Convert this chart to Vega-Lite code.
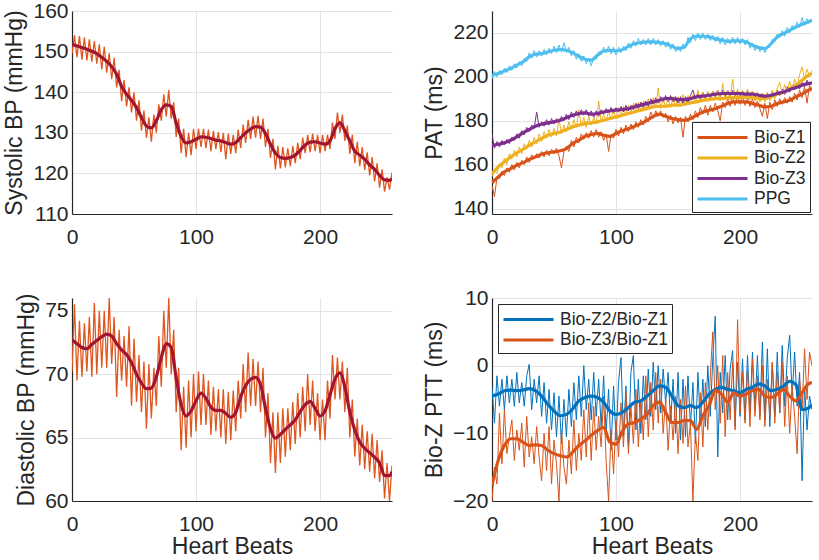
{
"$schema": "https://vega.github.io/schema/vega-lite/v6.json",
"padding": {"left": 3, "top": 0, "right": 5, "bottom": 0},
"background": "white",
"config": {
  "font": "Liberation Sans",
  "view": {"stroke": null},
  "axis": {"labelFontSize": 21, "titleFontSize": 23, "titleFontWeight": "normal", "labelColor": "#262626", "titleColor": "#262626", "domainColor": "#262626", "domainWidth": 1.2, "gridColor": "#e3e3e3", "gridWidth": 1, "ticks": false, "labelFlush": false, "labelOverlap": false},
  "axisX": {"labelPadding": 12, "titlePadding": 1},
  "axisY": {"labelPadding": 4, "titlePadding": 6},
  "legend": {"labelFontSize": 17.5, "labelColor": "#262626", "strokeColor": "#262626", "fillColor": "white", "padding": 4, "rowPadding": 0.5, "symbolStrokeWidth": 3, "title": null}
},
"datasets": {
"n": [
{"b":0,"s":149.5,"d":70.2,"z1":150.5,"z2":154.5,"z3":174.0,"pg":199.0,"r2":-3.0,"r3":-20.0},
{"b":2,"s":154.0,"d":75.5,"z1":145.5,"z2":157.5,"z3":167.5,"pg":202.5,"r2":-8.5,"r3":-15.0},
{"b":4,"s":148.6,"d":69.5,"z1":154.0,"z2":156.0,"z3":170.5,"pg":200.0,"r2":-1.5,"r3":-17.5},
{"b":6,"s":153.8,"d":74.2,"z1":153.5,"z2":160.5,"z3":168.0,"pg":203.0,"r2":-6.0,"r3":-7.0},
{"b":8,"s":148.0,"d":69.8,"z1":157.0,"z2":158.5,"z3":171.0,"pg":201.0,"r2":-2.0,"r3":-14.5},
{"b":10,"s":153.5,"d":74.0,"z1":155.0,"z2":163.0,"z3":169.0,"pg":204.0,"r2":-6.5,"r3":-6.5},
{"b":12,"s":147.8,"d":70.2,"z1":158.5,"z2":160.0,"z3":171.5,"pg":202.0,"r2":-1.5,"r3":-13.0},
{"b":14,"s":153.0,"d":74.5,"z1":156.5,"z2":165.0,"z3":169.5,"pg":205.0,"r2":-5.5,"r3":-10.5},
{"b":16,"s":147.5,"d":69.8,"z1":160.0,"z2":162.5,"z3":172.5,"pg":203.0,"r2":-2.0,"r3":-8.0},
{"b":18,"s":152.6,"d":75.6,"z1":157.5,"z2":166.5,"z3":171.0,"pg":206.0,"r2":-6.0,"r3":-14.0},
{"b":20,"s":147.0,"d":70.0,"z1":161.0,"z2":163.5,"z3":174.0,"pg":204.0,"r2":-1.0,"r3":-9.5},
{"b":22,"s":151.8,"d":75.0,"z1":158.5,"z2":168.0,"z3":172.0,"pg":207.0,"r2":-5.5,"r3":-12.5},
{"b":24,"s":145.6,"d":70.5,"z1":162.0,"z2":165.0,"z3":175.5,"pg":205.0,"r2":-2.5,"r3":-8.5},
{"b":26,"s":151.2,"d":75.0,"z1":160.0,"z2":169.5,"z3":173.5,"pg":208.5,"r2":-6.0,"r3":-15.0},
{"b":28,"s":144.8,"d":70.5,"z1":163.5,"z2":167.0,"z3":177.0,"pg":207.0,"r2":-1.5,"r3":-7.5},
{"b":30,"s":149.6,"d":76.0,"z1":161.0,"z2":171.0,"z3":175.0,"pg":211.0,"r2":0.2,"r3":-13.5},
{"b":32,"s":143.2,"d":70.8,"z1":164.5,"z2":168.0,"z3":178.0,"pg":208.5,"r2":-6.5,"r3":-10.5},
{"b":34,"s":148.5,"d":74.5,"z1":162.5,"z2":172.5,"z3":176.5,"pg":212.0,"r2":-2.0,"r3":-14.5},
{"b":36,"s":141.2,"d":68.2,"z1":165.0,"z2":169.5,"z3":184.0,"pg":209.0,"r2":-5.5,"r3":-9.0},
{"b":38,"s":145.5,"d":73.5,"z1":163.0,"z2":174.0,"z3":177.0,"pg":212.0,"r2":-1.5,"r3":-13.5},
{"b":40,"s":137.8,"d":69.5,"z1":166.0,"z2":170.5,"z3":179.5,"pg":209.5,"r2":-7.5,"r3":-17.0},
{"b":42,"s":143.0,"d":73.0,"z1":163.5,"z2":175.0,"z3":177.5,"pg":212.5,"r2":-2.5,"r3":-10.0},
{"b":44,"s":136.5,"d":69.0,"z1":166.5,"z2":172.0,"z3":180.5,"pg":210.0,"r2":-8.5,"r3":-15.5},
{"b":46,"s":141.2,"d":73.8,"z1":164.0,"z2":176.0,"z3":178.0,"pg":213.0,"r2":-3.5,"r3":-9.0},
{"b":48,"s":135.0,"d":67.5,"z1":167.0,"z2":172.5,"z3":181.0,"pg":210.5,"r2":-9.5,"r3":-17.5},
{"b":50,"s":140.0,"d":72.8,"z1":165.0,"z2":176.5,"z3":178.5,"pg":214.0,"r2":-4.0,"r3":-11.0},
{"b":52,"s":133.0,"d":67.8,"z1":167.5,"z2":173.0,"z3":181.0,"pg":211.0,"r2":-10.5,"r3":-14.5},
{"b":54,"s":138.0,"d":71.5,"z1":164.0,"z2":181.0,"z3":179.0,"pg":214.5,"r2":-4.5,"r3":-20.0},
{"b":56,"s":130.5,"d":67.0,"z1":158.5,"z2":174.0,"z3":182.0,"pg":211.5,"r2":-11.5,"r3":-9.5},
{"b":58,"s":135.5,"d":71.0,"z1":166.0,"z2":178.0,"z3":180.0,"pg":215.5,"r2":-5.0,"r3":-15.0},
{"b":60,"s":128.8,"d":65.7,"z1":168.5,"z2":175.0,"z3":183.0,"pg":211.0,"r2":-10.5,"r3":-17.5},
{"b":62,"s":133.8,"d":70.8,"z1":166.0,"z2":179.5,"z3":180.5,"pg":213.5,"r2":-3.5,"r3":-11.0},
{"b":64,"s":127.8,"d":66.5,"z1":171.0,"z2":176.0,"z3":184.0,"pg":209.5,"r2":-9.0,"r3":-16.0},
{"b":66,"s":134.5,"d":70.5,"z1":168.0,"z2":180.5,"z3":181.5,"pg":212.0,"r2":-2.5,"r3":-8.0},
{"b":68,"s":130.0,"d":67.5,"z1":172.5,"z2":177.0,"z3":184.5,"pg":208.0,"r2":-8.0,"r3":-15.5},
{"b":70,"s":137.0,"d":73.0,"z1":170.0,"z2":185.0,"z3":182.0,"pg":210.5,"r2":-1.5,"r3":-10.0},
{"b":72,"s":133.0,"d":69.0,"z1":174.0,"z2":177.5,"z3":185.0,"pg":207.0,"r2":-7.5,"r3":-14.0},
{"b":74,"s":139.5,"d":75.0,"z1":171.5,"z2":181.5,"z3":182.5,"pg":209.5,"r2":0.0,"r3":-6.5},
{"b":76,"s":134.0,"d":70.5,"z1":174.5,"z2":177.0,"z3":185.0,"pg":206.0,"r2":-6.5,"r3":-13.5},
{"b":78,"s":140.5,"d":76.0,"z1":172.0,"z2":182.0,"z3":182.0,"pg":208.5,"r2":-2.0,"r3":-5.5},
{"b":80,"s":133.5,"d":70.0,"z1":175.5,"z2":178.0,"z3":184.5,"pg":205.0,"r2":-8.0,"r3":-14.0},
{"b":82,"s":137.5,"d":73.5,"z1":172.5,"z2":181.5,"z3":181.5,"pg":209.0,"r2":-1.0,"r3":-6.0},
{"b":84,"s":129.0,"d":67.0,"z1":176.0,"z2":178.5,"z3":184.5,"pg":208.0,"r2":-7.5,"r3":-12.5},
{"b":86,"s":133.5,"d":70.5,"z1":172.5,"z2":189.0,"z3":182.0,"pg":211.5,"r2":-2.0,"r3":-7.5},
{"b":88,"s":125.0,"d":64.0,"z1":175.0,"z2":179.5,"z3":185.0,"pg":210.0,"r2":-9.0,"r3":-12.0},
{"b":90,"s":131.0,"d":69.0,"z1":171.0,"z2":183.0,"z3":183.0,"pg":213.5,"r2":-1.5,"r3":-4.5},
{"b":92,"s":124.0,"d":64.2,"z1":174.0,"z2":180.0,"z3":185.5,"pg":211.0,"r2":-10.0,"r3":-14.0},
{"b":94,"s":130.0,"d":69.5,"z1":166.0,"z2":184.0,"z3":183.5,"pg":214.0,"r2":-3.5,"r3":-20.0},
{"b":96,"s":124.5,"d":65.0,"z1":173.5,"z2":180.5,"z3":186.0,"pg":210.5,"r2":-12.5,"r3":-9.5},
{"b":98,"s":131.0,"d":70.0,"z1":172.0,"z2":185.0,"z3":183.5,"pg":213.5,"r2":-3.0,"r3":-16.0},
{"b":100,"s":126.0,"d":65.5,"z1":176.0,"z2":181.0,"z3":186.0,"pg":210.0,"r2":-11.0,"r3":-8.0},
{"b":102,"s":131.0,"d":70.2,"z1":173.0,"z2":186.0,"z3":184.0,"pg":213.5,"r2":-2.5,"r3":-13.5},
{"b":104,"s":126.5,"d":66.0,"z1":177.0,"z2":182.0,"z3":186.5,"pg":211.0,"r2":1.2,"r3":-5.5},
{"b":106,"s":131.0,"d":70.0,"z1":174.0,"z2":186.5,"z3":184.0,"pg":214.0,"r2":-10.5,"r3":-12.0},
{"b":108,"s":126.2,"d":66.0,"z1":178.0,"z2":182.5,"z3":187.0,"pg":212.0,"r2":-3.0,"r3":-4.0},
{"b":110,"s":130.8,"d":69.5,"z1":175.0,"z2":187.0,"z3":184.5,"pg":215.5,"r2":-12.0,"r3":-13.0},
{"b":112,"s":125.5,"d":65.2,"z1":178.5,"z2":183.5,"z3":187.0,"pg":213.0,"r2":-1.0,"r3":-6.0},
{"b":114,"s":130.5,"d":69.0,"z1":176.0,"z2":188.0,"z3":185.0,"pg":216.5,"r2":1.5,"r3":-11.5},
{"b":116,"s":126.0,"d":65.5,"z1":179.5,"z2":184.0,"z3":188.0,"pg":214.0,"r2":-9.5,"r3":-3.5},
{"b":118,"s":130.2,"d":68.8,"z1":177.0,"z2":188.5,"z3":185.5,"pg":217.5,"r2":-2.0,"r3":-12.0},
{"b":120,"s":125.2,"d":65.0,"z1":180.5,"z2":184.5,"z3":188.5,"pg":214.5,"r2":-10.0,"r3":-5.0},
{"b":122,"s":130.0,"d":68.8,"z1":178.0,"z2":189.0,"z3":186.0,"pg":217.0,"r2":-1.5,"r3":-11.0},
{"b":124,"s":123.5,"d":64.5,"z1":182.0,"z2":185.0,"z3":189.0,"pg":214.5,"r2":-8.0,"r3":-1.5},
{"b":126,"s":129.8,"d":68.6,"z1":179.5,"z2":190.0,"z3":186.5,"pg":217.5,"r2":-0.5,"r3":-10.5},
{"b":128,"s":124.8,"d":64.8,"z1":184.0,"z2":185.5,"z3":190.0,"pg":214.5,"r2":-7.5,"r3":-2.5},
{"b":130,"s":129.5,"d":68.7,"z1":181.0,"z2":190.5,"z3":187.5,"pg":217.5,"r2":0.5,"r3":-9.5},
{"b":132,"s":125.0,"d":65.5,"z1":184.5,"z2":186.0,"z3":190.5,"pg":214.5,"r2":-6.5,"r3":-1.0},
{"b":134,"s":130.8,"d":69.5,"z1":182.0,"z2":195.0,"z3":188.0,"pg":217.0,"r2":0.0,"r3":-8.5},
{"b":136,"s":126.2,"d":66.5,"z1":184.5,"z2":185.5,"z3":191.0,"pg":214.0,"r2":-7.0,"r3":-2.0},
{"b":138,"s":132.0,"d":70.8,"z1":181.5,"z2":190.0,"z3":188.5,"pg":216.5,"r2":-0.5,"r3":-10.0},
{"b":140,"s":127.5,"d":67.0,"z1":183.5,"z2":186.0,"z3":191.5,"pg":213.5,"r2":-5.5,"r3":-5.0},
{"b":142,"s":133.2,"d":71.7,"z1":179.5,"z2":190.5,"z3":188.5,"pg":216.0,"r2":-1.0,"r3":-12.5},
{"b":144,"s":128.5,"d":67.5,"z1":182.5,"z2":186.0,"z3":191.5,"pg":212.5,"r2":-8.5,"r3":-6.0},
{"b":146,"s":134.0,"d":71.2,"z1":178.5,"z2":191.0,"z3":188.5,"pg":215.0,"r2":-2.0,"r3":-11.0},
{"b":148,"s":128.8,"d":67.5,"z1":182.0,"z2":186.5,"z3":191.0,"pg":211.5,"r2":-10.0,"r3":-4.5},
{"b":150,"s":134.2,"d":71.0,"z1":179.0,"z2":191.0,"z3":188.0,"pg":214.0,"r2":-1.0,"r3":-13.0},
{"b":152,"s":128.5,"d":67.0,"z1":181.5,"z2":186.5,"z3":191.0,"pg":211.5,"r2":-11.0,"r3":-5.0},
{"b":154,"s":133.5,"d":70.5,"z1":172.5,"z2":192.0,"z3":188.0,"pg":215.0,"r2":-2.0,"r3":-11.5},
{"b":156,"s":126.5,"d":65.0,"z1":182.0,"z2":187.0,"z3":191.0,"pg":213.0,"r2":-10.5,"r3":-3.0},
{"b":158,"s":131.0,"d":68.5,"z1":179.5,"z2":191.5,"z3":188.5,"pg":218.0,"r2":-1.5,"r3":-12.0},
{"b":160,"s":123.8,"d":63.0,"z1":183.0,"z2":187.5,"z3":191.5,"pg":215.5,"r2":-9.0,"r3":-8.5},
{"b":162,"s":128.5,"d":67.0,"z1":180.5,"z2":192.0,"z3":194.0,"pg":219.5,"r2":-2.5,"r3":-20.0},
{"b":164,"s":121.0,"d":62.2,"z1":184.5,"z2":188.0,"z3":190.0,"pg":216.5,"r2":-11.5,"r3":-10.0},
{"b":166,"s":126.8,"d":67.0,"z1":181.5,"z2":194.0,"z3":192.5,"pg":220.0,"r2":-1.0,"r3":-14.0},
{"b":168,"s":121.2,"d":63.0,"z1":186.0,"z2":188.5,"z3":190.0,"pg":217.0,"r2":-8.5,"r3":-4.0},
{"b":170,"s":126.5,"d":67.3,"z1":183.0,"z2":193.0,"z3":193.0,"pg":220.0,"r2":-2.0,"r3":-12.0},
{"b":172,"s":121.5,"d":63.5,"z1":187.0,"z2":189.0,"z3":190.0,"pg":217.0,"r2":-9.0,"r3":-2.5},
{"b":174,"s":126.2,"d":67.3,"z1":182.5,"z2":193.5,"z3":193.0,"pg":219.5,"r2":0.0,"r3":-9.5},
{"b":176,"s":121.8,"d":64.0,"z1":187.0,"z2":189.0,"z3":190.5,"pg":216.5,"r2":-7.5,"r3":-1.5},
{"b":178,"s":126.8,"d":67.8,"z1":184.0,"z2":193.5,"z3":193.5,"pg":219.0,"r2":1.0,"r3":5.0},
{"b":180,"s":122.5,"d":64.5,"z1":188.0,"z2":189.5,"z3":191.0,"pg":216.0,"r2":7.3,"r3":-6.5},
{"b":182,"s":127.5,"d":68.5,"z1":184.5,"z2":194.0,"z3":194.0,"pg":218.5,"r2":-13.5,"r3":0.0},
{"b":184,"s":123.5,"d":65.0,"z1":180.0,"z2":189.0,"z3":191.0,"pg":215.0,"r2":-1.0,"r3":-8.5},
{"b":186,"s":128.8,"d":69.0,"z1":188.5,"z2":197.0,"z3":194.0,"pg":218.0,"r2":-7.0,"r3":1.5},
{"b":188,"s":125.0,"d":65.5,"z1":186.0,"z2":189.5,"z3":191.0,"pg":214.5,"r2":1.5,"r3":-10.5},
{"b":190,"s":129.5,"d":70.0,"z1":190.0,"z2":194.0,"z3":194.0,"pg":217.5,"r2":-8.0,"r3":-1.0},
{"b":192,"s":125.2,"d":66.0,"z1":186.5,"z2":189.5,"z3":191.0,"pg":215.0,"r2":-0.5,"r3":-8.0},
{"b":194,"s":129.8,"d":69.5,"z1":191.0,"z2":199.0,"z3":194.0,"pg":218.0,"r2":2.2,"r3":0.5},
{"b":196,"s":125.5,"d":65.5,"z1":187.0,"z2":190.0,"z3":191.0,"pg":215.0,"r2":-9.0,"r3":-9.5},
{"b":198,"s":129.5,"d":68.5,"z1":191.5,"z2":194.5,"z3":193.5,"pg":218.0,"r2":0.5,"r3":6.8},
{"b":200,"s":125.0,"d":64.8,"z1":187.5,"z2":190.0,"z3":191.0,"pg":215.0,"r2":-7.5,"r3":-7.0},
{"b":202,"s":129.5,"d":68.0,"z1":191.0,"z2":194.0,"z3":193.5,"pg":217.5,"r2":1.0,"r3":-1.0},
{"b":204,"s":125.5,"d":64.8,"z1":187.0,"z2":190.0,"z3":190.5,"pg":214.5,"r2":-8.0,"r3":-8.5},
{"b":206,"s":129.5,"d":69.5,"z1":190.5,"z2":194.5,"z3":193.5,"pg":217.0,"r2":1.5,"r3":-0.5},
{"b":208,"s":126.0,"d":66.5,"z1":186.5,"z2":189.5,"z3":190.5,"pg":213.0,"r2":-7.0,"r3":-9.0},
{"b":210,"s":132.5,"d":71.5,"z1":190.0,"z2":193.5,"z3":193.5,"pg":215.5,"r2":2.0,"r3":1.0},
{"b":212,"s":128.5,"d":68.0,"z1":186.0,"z2":189.0,"z3":190.0,"pg":212.0,"r2":-6.5,"r3":-7.5},
{"b":214,"s":135.0,"d":71.3,"z1":189.0,"z2":193.0,"z3":193.0,"pg":214.5,"r2":1.5,"r3":-1.5},
{"b":216,"s":130.0,"d":68.0,"z1":185.5,"z2":188.5,"z3":190.0,"pg":211.5,"r2":-7.5,"r3":-8.0},
{"b":218,"s":134.5,"d":71.0,"z1":182.0,"z2":192.5,"z3":192.5,"pg":214.0,"r2":3.5,"r3":0.0},
{"b":220,"s":128.0,"d":67.0,"z1":188.0,"z2":188.5,"z3":190.0,"pg":211.0,"r2":-8.0,"r3":-9.0},
{"b":222,"s":131.8,"d":70.5,"z1":181.0,"z2":193.0,"z3":192.5,"pg":213.5,"r2":2.5,"r3":-2.0},
{"b":224,"s":124.8,"d":65.0,"z1":188.5,"z2":189.0,"z3":190.5,"pg":213.5,"r2":-9.0,"r3":-7.5},
{"b":226,"s":129.5,"d":68.0,"z1":185.0,"z2":194.0,"z3":193.0,"pg":217.0,"r2":0.5,"r3":0.5},
{"b":228,"s":122.5,"d":63.5,"z1":189.5,"z2":190.0,"z3":191.0,"pg":216.0,"r2":-7.5,"r3":-8.5},
{"b":230,"s":127.8,"d":66.5,"z1":186.5,"z2":195.0,"z3":194.0,"pg":219.5,"r2":2.0,"r3":-1.0},
{"b":232,"s":121.8,"d":62.8,"z1":190.0,"z2":197.5,"z3":191.5,"pg":218.0,"r2":-7.0,"r3":-7.0},
{"b":234,"s":126.5,"d":66.0,"z1":187.5,"z2":192.0,"z3":194.5,"pg":221.0,"r2":3.0,"r3":0.5},
{"b":236,"s":120.8,"d":62.5,"z1":190.5,"z2":196.5,"z3":192.0,"pg":218.5,"r2":-6.0,"r3":-9.0},
{"b":238,"s":125.2,"d":65.5,"z1":188.0,"z2":193.0,"z3":195.5,"pg":222.5,"r2":1.0,"r3":-1.5},
{"b":240,"s":119.5,"d":62.3,"z1":191.0,"z2":198.0,"z3":193.0,"pg":220.0,"r2":4.5,"r3":-10.0},
{"b":242,"s":124.0,"d":65.3,"z1":188.5,"z2":194.0,"z3":196.0,"pg":223.5,"r2":-4.5,"r3":-3.0},
{"b":244,"s":118.0,"d":61.8,"z1":192.5,"z2":199.0,"z3":194.0,"pg":221.5,"r2":2.0,"r3":-7.5},
{"b":246,"s":122.5,"d":64.8,"z1":189.5,"z2":195.5,"z3":197.0,"pg":225.0,"r2":-6.0,"r3":-13.0},
{"b":248,"s":116.5,"d":61.5,"z1":194.0,"z2":201.0,"z3":194.5,"pg":222.5,"r2":-1.0,"r3":-2.0},
{"b":250,"s":121.0,"d":64.0,"z1":190.5,"z2":204.5,"z3":197.5,"pg":227.0,"r2":-17.0,"r3":-6.5},
{"b":252,"s":115.5,"d":60.2,"z1":195.5,"z2":199.0,"z3":195.5,"pg":223.5,"r2":-3.0,"r3":2.5},
{"b":254,"s":119.0,"d":63.0,"z1":188.0,"z2":203.5,"z3":198.5,"pg":226.5,"r2":-9.5,"r3":-5.0},
{"b":256,"s":116.0,"d":60.0,"z1":196.0,"z2":200.0,"z3":196.0,"pg":224.5,"r2":-4.5,"r3":2.0},
{"b":258,"s":120.2,"d":62.8,"z1":194.5,"z2":203.0,"z3":198.0,"pg":226.0,"r2":-6.5,"r3":0.0}
],
"m1": [
{"b":0,"s":151.8,"d":72.7},{"b":4,"s":151.4,"d":72.4},{"b":8,"s":151.0,"d":72.1},{"b":12,"s":150.6,"d":72.0},
{"b":16,"s":150.1,"d":72.35},{"b":20,"s":149.5,"d":72.65},{"b":24,"s":148.6,"d":72.95},{"b":28,"s":147.6,"d":73.15},
{"b":32,"s":146.3,"d":73.0},{"b":36,"s":144.4,"d":72.4},{"b":40,"s":141.4,"d":71.9},{"b":44,"s":139.5,"d":71.55},
{"b":48,"s":138.0,"d":70.9},{"b":52,"s":136.2,"d":70.0},{"b":56,"s":133.8,"d":69.3},{"b":60,"s":131.7,"d":68.85},
{"b":64,"s":131.2,"d":68.9},{"b":68,"s":133.0,"d":69.8},{"b":72,"s":135.7,"d":71.3},{"b":76,"s":136.9,"d":72.4},
{"b":80,"s":136.5,"d":72.1},{"b":84,"s":132.4,"d":69.7},{"b":88,"s":129.1,"d":67.6},{"b":92,"s":127.5,"d":66.7},
{"b":96,"s":127.8,"d":67.1},{"b":100,"s":128.4,"d":67.9},{"b":104,"s":129.0,"d":68.5},{"b":108,"s":128.9,"d":68.1},
{"b":112,"s":128.6,"d":67.4},{"b":116,"s":128.2,"d":67.15},{"b":120,"s":128.0,"d":67.15},{"b":124,"s":127.6,"d":66.9},
{"b":128,"s":127.2,"d":66.6},{"b":132,"s":127.6,"d":67.0},{"b":136,"s":128.8,"d":68.2},{"b":140,"s":130.0,"d":69.1},
{"b":144,"s":130.9,"d":69.6},{"b":148,"s":131.5,"d":69.75},{"b":152,"s":131.4,"d":69.2},{"b":156,"s":129.8,"d":67.3},
{"b":160,"s":127.2,"d":65.7},{"b":164,"s":125.0,"d":64.95},{"b":168,"s":123.9,"d":65.25},{"b":172,"s":123.7,"d":65.65},
{"b":176,"s":123.9,"d":66.0},{"b":180,"s":124.5,"d":66.4},{"b":184,"s":125.7,"d":67.05},{"b":188,"s":127.0,"d":67.6},
{"b":192,"s":127.7,"d":67.85},{"b":196,"s":127.8,"d":67.3},{"b":200,"s":127.5,"d":66.7},{"b":204,"s":127.2,"d":67.1},
{"b":208,"s":128.0,"d":68.35},{"b":212,"s":131.0,"d":69.6},{"b":216,"s":132.5,"d":70.1},{"b":220,"s":130.5,"d":69.0},
{"b":224,"s":128.0,"d":67.0},{"b":228,"s":125.5,"d":65.6},{"b":232,"s":124.5,"d":64.65},{"b":236,"s":123.5,"d":64.15},
{"b":240,"s":122.1,"d":63.8},{"b":244,"s":121.0,"d":63.45},{"b":248,"s":119.5,"d":63.0},{"b":252,"s":118.4,"d":62.0},
{"b":256,"s":118.3,"d":62.0},{"b":258,"s":118.7,"d":62.3}
],
"m2": [
{"b":0,"Bio-Z1":151.7,"Bio-Z2":155.9,"Bio-Z3":168.8,"PPG":200.7},
{"b":5,"Bio-Z1":154.4,"Bio-Z2":159.0,"Bio-Z3":169.3,"PPG":201.5},
{"b":10,"Bio-Z1":156.7,"Bio-Z2":161.3,"Bio-Z3":169.9,"PPG":202.7},
{"b":15,"Bio-Z1":158.2,"Bio-Z2":163.5,"Bio-Z3":171.1,"PPG":203.8},
{"b":20,"Bio-Z1":159.7,"Bio-Z2":165.4,"Bio-Z3":172.6,"PPG":205.3},
{"b":25,"Bio-Z1":160.9,"Bio-Z2":166.9,"Bio-Z3":174.5,"PPG":206.8},
{"b":30,"Bio-Z1":162.3,"Bio-Z2":168.8,"Bio-Z3":176.0,"PPG":209.1},
{"b":35,"Bio-Z1":163.5,"Bio-Z2":170.4,"Bio-Z3":177.5,"PPG":210.3},
{"b":40,"Bio-Z1":164.7,"Bio-Z2":171.9,"Bio-Z3":178.4,"PPG":210.6},
{"b":45,"Bio-Z1":165.4,"Bio-Z2":173.4,"Bio-Z3":179.0,"PPG":211.3},
{"b":50,"Bio-Z1":165.8,"Bio-Z2":174.2,"Bio-Z3":179.5,"PPG":212.1},
{"b":55,"Bio-Z1":166.3,"Bio-Z2":174.9,"Bio-Z3":180.2,"PPG":212.4},
{"b":60,"Bio-Z1":167.3,"Bio-Z2":176.0,"Bio-Z3":181.4,"PPG":212.1},
{"b":65,"Bio-Z1":169.6,"Bio-Z2":177.2,"Bio-Z3":182.5,"PPG":210.9},
{"b":70,"Bio-Z1":171.1,"Bio-Z2":178.0,"Bio-Z3":183.3,"PPG":209.4},
{"b":75,"Bio-Z1":172.9,"Bio-Z2":178.7,"Bio-Z3":183.6,"PPG":208.0},
{"b":80,"Bio-Z1":173.7,"Bio-Z2":179.0,"Bio-Z3":183.0,"PPG":207.6},
{"b":85,"Bio-Z1":174.2,"Bio-Z2":179.5,"Bio-Z3":183.3,"PPG":209.8},
{"b":90,"Bio-Z1":173.4,"Bio-Z2":180.2,"Bio-Z3":184.0,"PPG":211.8},
{"b":95,"Bio-Z1":172.9,"Bio-Z2":181.0,"Bio-Z3":184.5,"PPG":212.1},
{"b":100,"Bio-Z1":174.2,"Bio-Z2":181.7,"Bio-Z3":184.8,"PPG":211.8},
{"b":105,"Bio-Z1":175.4,"Bio-Z2":182.5,"Bio-Z3":185.1,"PPG":212.4},
{"b":110,"Bio-Z1":176.4,"Bio-Z2":183.3,"Bio-Z3":185.5,"PPG":213.9},
{"b":115,"Bio-Z1":177.5,"Bio-Z2":184.0,"Bio-Z3":186.3,"PPG":215.1},
{"b":120,"Bio-Z1":178.7,"Bio-Z2":184.8,"Bio-Z3":187.1,"PPG":215.6},
{"b":125,"Bio-Z1":180.2,"Bio-Z2":185.5,"Bio-Z3":187.8,"PPG":215.9},
{"b":130,"Bio-Z1":182.0,"Bio-Z2":186.3,"Bio-Z3":188.6,"PPG":215.9},
{"b":135,"Bio-Z1":183.0,"Bio-Z2":186.6,"Bio-Z3":189.3,"PPG":215.6},
{"b":140,"Bio-Z1":182.0,"Bio-Z2":186.6,"Bio-Z3":190.1,"PPG":215.1},
{"b":145,"Bio-Z1":181.0,"Bio-Z2":187.1,"Bio-Z3":190.1,"PPG":213.9},
{"b":150,"Bio-Z1":180.5,"Bio-Z2":187.1,"Bio-Z3":189.6,"PPG":212.9},
{"b":155,"Bio-Z1":180.2,"Bio-Z2":187.5,"Bio-Z3":189.6,"PPG":213.6},
{"b":160,"Bio-Z1":181.0,"Bio-Z2":188.1,"Bio-Z3":190.1,"PPG":217.4},
{"b":165,"Bio-Z1":182.5,"Bio-Z2":188.6,"Bio-Z3":190.9,"PPG":218.5},
{"b":170,"Bio-Z1":184.0,"Bio-Z2":189.3,"Bio-Z3":191.2,"PPG":218.5},
{"b":175,"Bio-Z1":184.8,"Bio-Z2":189.6,"Bio-Z3":191.6,"PPG":218.2},
{"b":180,"Bio-Z1":185.5,"Bio-Z2":190.1,"Bio-Z3":192.1,"PPG":217.4},
{"b":185,"Bio-Z1":186.6,"Bio-Z2":190.1,"Bio-Z3":192.4,"PPG":216.7},
{"b":190,"Bio-Z1":187.8,"Bio-Z2":190.4,"Bio-Z3":192.4,"PPG":216.2},
{"b":195,"Bio-Z1":188.6,"Bio-Z2":190.5,"Bio-Z3":192.4,"PPG":216.4},
{"b":200,"Bio-Z1":188.6,"Bio-Z2":190.5,"Bio-Z3":192.4,"PPG":216.4},
{"b":205,"Bio-Z1":188.6,"Bio-Z2":190.9,"Bio-Z3":192.1,"PPG":215.9},
{"b":210,"Bio-Z1":187.8,"Bio-Z2":190.5,"Bio-Z3":192.1,"PPG":214.4},
{"b":215,"Bio-Z1":187.1,"Bio-Z2":190.1,"Bio-Z3":191.6,"PPG":213.3},
{"b":220,"Bio-Z1":186.3,"Bio-Z2":190.1,"Bio-Z3":191.2,"PPG":212.9},
{"b":225,"Bio-Z1":186.6,"Bio-Z2":190.9,"Bio-Z3":191.6,"PPG":215.1},
{"b":230,"Bio-Z1":187.8,"Bio-Z2":192.1,"Bio-Z3":192.4,"PPG":218.2},
{"b":235,"Bio-Z1":188.6,"Bio-Z2":193.1,"Bio-Z3":193.1,"PPG":219.7},
{"b":240,"Bio-Z1":189.3,"Bio-Z2":194.6,"Bio-Z3":194.2,"PPG":221.2},
{"b":245,"Bio-Z1":190.9,"Bio-Z2":196.2,"Bio-Z3":195.1,"PPG":222.7},
{"b":250,"Bio-Z1":192.1,"Bio-Z2":198.4,"Bio-Z3":196.2,"PPG":224.0},
{"b":255,"Bio-Z1":193.9,"Bio-Z2":200.7,"Bio-Z3":196.9,"PPG":225.0},
{"b":258,"Bio-Z1":194.6,"Bio-Z2":201.5,"Bio-Z3":197.2,"PPG":225.8}
],
"m4": [
{"b":0,"Bio-Z2/Bio-Z1":-4.5,"Bio-Z3/Bio-Z1":-17.7},
{"b":5,"Bio-Z2/Bio-Z1":-4.2,"Bio-Z3/Bio-Z1":-14.0},
{"b":10,"Bio-Z2/Bio-Z1":-3.7,"Bio-Z3/Bio-Z1":-11.8},
{"b":15,"Bio-Z2/Bio-Z1":-3.6,"Bio-Z3/Bio-Z1":-10.8},
{"b":20,"Bio-Z2/Bio-Z1":-3.7,"Bio-Z3/Bio-Z1":-10.8},
{"b":25,"Bio-Z2/Bio-Z1":-3.6,"Bio-Z3/Bio-Z1":-11.3},
{"b":30,"Bio-Z2/Bio-Z1":-3.4,"Bio-Z3/Bio-Z1":-11.8},
{"b":35,"Bio-Z2/Bio-Z1":-3.7,"Bio-Z3/Bio-Z1":-11.7},
{"b":40,"Bio-Z2/Bio-Z1":-4.5,"Bio-Z3/Bio-Z1":-11.8},
{"b":45,"Bio-Z2/Bio-Z1":-5.7,"Bio-Z3/Bio-Z1":-12.5},
{"b":50,"Bio-Z2/Bio-Z1":-6.7,"Bio-Z3/Bio-Z1":-13.0},
{"b":55,"Bio-Z2/Bio-Z1":-7.4,"Bio-Z3/Bio-Z1":-13.3},
{"b":60,"Bio-Z2/Bio-Z1":-7.2,"Bio-Z3/Bio-Z1":-13.5},
{"b":65,"Bio-Z2/Bio-Z1":-6.4,"Bio-Z3/Bio-Z1":-12.8},
{"b":70,"Bio-Z2/Bio-Z1":-5.2,"Bio-Z3/Bio-Z1":-11.8},
{"b":75,"Bio-Z2/Bio-Z1":-4.7,"Bio-Z3/Bio-Z1":-11.1},
{"b":80,"Bio-Z2/Bio-Z1":-4.5,"Bio-Z3/Bio-Z1":-10.3},
{"b":85,"Bio-Z2/Bio-Z1":-4.7,"Bio-Z3/Bio-Z1":-9.6},
{"b":90,"Bio-Z2/Bio-Z1":-5.4,"Bio-Z3/Bio-Z1":-9.1},
{"b":95,"Bio-Z2/Bio-Z1":-6.7,"Bio-Z3/Bio-Z1":-11.3},
{"b":100,"Bio-Z2/Bio-Z1":-7.2,"Bio-Z3/Bio-Z1":-11.6},
{"b":105,"Bio-Z2/Bio-Z1":-6.9,"Bio-Z3/Bio-Z1":-9.7},
{"b":110,"Bio-Z2/Bio-Z1":-6.2,"Bio-Z3/Bio-Z1":-8.6},
{"b":115,"Bio-Z2/Bio-Z1":-5.4,"Bio-Z3/Bio-Z1":-8.4},
{"b":120,"Bio-Z2/Bio-Z1":-5.2,"Bio-Z3/Bio-Z1":-7.9},
{"b":125,"Bio-Z2/Bio-Z1":-4.5,"Bio-Z3/Bio-Z1":-7.2},
{"b":130,"Bio-Z2/Bio-Z1":-3.7,"Bio-Z3/Bio-Z1":-5.9},
{"b":135,"Bio-Z2/Bio-Z1":-3.0,"Bio-Z3/Bio-Z1":-5.4},
{"b":140,"Bio-Z2/Bio-Z1":-3.2,"Bio-Z3/Bio-Z1":-6.9},
{"b":145,"Bio-Z2/Bio-Z1":-4.5,"Bio-Z3/Bio-Z1":-8.4},
{"b":150,"Bio-Z2/Bio-Z1":-5.9,"Bio-Z3/Bio-Z1":-8.4},
{"b":155,"Bio-Z2/Bio-Z1":-6.2,"Bio-Z3/Bio-Z1":-8.1},
{"b":160,"Bio-Z2/Bio-Z1":-5.9,"Bio-Z3/Bio-Z1":-8.1},
{"b":165,"Bio-Z2/Bio-Z1":-6.2,"Bio-Z3/Bio-Z1":-9.4},
{"b":170,"Bio-Z2/Bio-Z1":-5.4,"Bio-Z3/Bio-Z1":-7.4},
{"b":175,"Bio-Z2/Bio-Z1":-4.2,"Bio-Z3/Bio-Z1":-5.9},
{"b":180,"Bio-Z2/Bio-Z1":-3.5,"Bio-Z3/Bio-Z1":-3.7},
{"b":185,"Bio-Z2/Bio-Z1":-3.2,"Bio-Z3/Bio-Z1":-4.2},
{"b":190,"Bio-Z2/Bio-Z1":-3.5,"Bio-Z3/Bio-Z1":-5.4},
{"b":195,"Bio-Z2/Bio-Z1":-3.7,"Bio-Z3/Bio-Z1":-4.0},
{"b":200,"Bio-Z2/Bio-Z1":-4.0,"Bio-Z3/Bio-Z1":-4.5},
{"b":205,"Bio-Z2/Bio-Z1":-3.5,"Bio-Z3/Bio-Z1":-4.2},
{"b":210,"Bio-Z2/Bio-Z1":-3.2,"Bio-Z3/Bio-Z1":-3.7},
{"b":215,"Bio-Z2/Bio-Z1":-2.7,"Bio-Z3/Bio-Z1":-3.5},
{"b":220,"Bio-Z2/Bio-Z1":-3.0,"Bio-Z3/Bio-Z1":-4.5},
{"b":225,"Bio-Z2/Bio-Z1":-3.7,"Bio-Z3/Bio-Z1":-4.7},
{"b":230,"Bio-Z2/Bio-Z1":-3.5,"Bio-Z3/Bio-Z1":-4.2},
{"b":235,"Bio-Z2/Bio-Z1":-3.0,"Bio-Z3/Bio-Z1":-3.5},
{"b":240,"Bio-Z2/Bio-Z1":-2.3,"Bio-Z3/Bio-Z1":-4.5},
{"b":245,"Bio-Z2/Bio-Z1":-2.8,"Bio-Z3/Bio-Z1":-5.2},
{"b":250,"Bio-Z2/Bio-Z1":-6.5,"Bio-Z3/Bio-Z1":-4.0},
{"b":255,"Bio-Z2/Bio-Z1":-6.3,"Bio-Z3/Bio-Z1":-2.7},
{"b":258,"Bio-Z2/Bio-Z1":-5.8,"Bio-Z3/Bio-Z1":-2.5}
]
},
"columns": 2,
"spacing": {"row": 40, "column": 31},
"concat": [
{
 "width": 320, "height": 203,
 "encoding": {
  "x": {"field": "b", "type": "quantitative", "scale": {"domain": [0, 258], "nice": false}, "axis": {"values": [0, 100, 200], "title": null}},
  "y": {"field": "s", "type": "quantitative", "scale": {"domain": [110, 160], "nice": false, "zero": false}, "axis": {"values": [110, 120, 130, 140, 150, 160], "title": "Systolic BP (mmHg)"}}
 },
 "layer": [
  {"data": {"name": "n"}, "mark": {"type": "line", "color": "#E0561F", "strokeWidth": 1.3, "clip": true}},
  {"data": {"name": "m1"}, "mark": {"type": "line", "color": "#A2142F", "strokeWidth": 3.2, "interpolate": "monotone", "clip": true}}
 ]
},
{
 "width": 320, "height": 203,
 "encoding": {
  "x": {"field": "b", "type": "quantitative", "scale": {"domain": [0, 258], "nice": false}, "axis": {"values": [0, 100, 200], "title": null}}
 },
 "layer": [
  {"data": {"name": "n"}, "mark": {"type": "line", "color": "#4DBEEE", "strokeWidth": 1, "clip": true},
   "encoding": {"y": {"field": "pg", "type": "quantitative", "scale": {"domain": [137.5, 230], "nice": false, "zero": false}, "axis": {"values": [140, 160, 180, 200, 220], "title": "PAT (ms)"}}}},
  {"data": {"name": "n"}, "mark": {"type": "line", "color": "#7E2F8E", "strokeWidth": 1, "clip": true},
   "encoding": {"y": {"field": "z3", "type": "quantitative", "title": "PAT (ms)"}}},
  {"data": {"name": "n"}, "mark": {"type": "line", "color": "#EDB120", "strokeWidth": 1, "clip": true},
   "encoding": {"y": {"field": "z2", "type": "quantitative", "title": "PAT (ms)"}}},
  {"data": {"name": "n"}, "mark": {"type": "line", "color": "#D95319", "strokeWidth": 1, "clip": true},
   "encoding": {"y": {"field": "z1", "type": "quantitative", "title": "PAT (ms)"}}},
  {"data": {"name": "m2"},
   "transform": [{"fold": ["Bio-Z1", "Bio-Z2", "Bio-Z3", "PPG"], "as": ["k", "v"]}],
   "mark": {"type": "line", "strokeWidth": 3.2, "interpolate": "monotone", "clip": true},
   "encoding": {
    "y": {"field": "v", "type": "quantitative", "title": "PAT (ms)"},
    "color": {"field": "k", "type": "nominal", "scale": {"domain": ["Bio-Z1", "Bio-Z2", "Bio-Z3", "PPG"], "range": ["#D95319", "#EDB120", "#7E2F8E", "#4DBEEE"]},
     "legend": {"orient": "bottom-right", "offset": 2, "symbolType": "M-2.5,0H2.5", "symbolSize": 400, "symbolOffset": 15, "labelOffset": 20, "symbolStrokeWidth": 3}}
   }}
 ]
},
{
 "width": 320, "height": 203,
 "encoding": {
  "x": {"field": "b", "type": "quantitative", "scale": {"domain": [0, 258], "nice": false}, "axis": {"values": [0, 100, 200], "title": "Heart Beats"}},
  "y": {"field": "d", "type": "quantitative", "scale": {"domain": [60, 76], "nice": false, "zero": false}, "axis": {"values": [60, 65, 70, 75], "title": "Diastolic BP (mmHg)"}}
 },
 "layer": [
  {"data": {"name": "n"}, "mark": {"type": "line", "color": "#E0561F", "strokeWidth": 1.3, "clip": true}},
  {"data": {"name": "m1"}, "mark": {"type": "line", "color": "#A2142F", "strokeWidth": 3.2, "interpolate": "monotone", "clip": true}}
 ]
},
{
 "width": 320, "height": 203,
 "encoding": {
  "x": {"field": "b", "type": "quantitative", "scale": {"domain": [0, 258], "nice": false}, "axis": {"values": [0, 100, 200], "title": "Heart Beats"}}
 },
 "layer": [
  {"data": {"name": "n"}, "mark": {"type": "line", "color": "#0072BD", "strokeWidth": 1, "clip": true},
   "encoding": {"y": {"field": "r2", "type": "quantitative", "scale": {"domain": [-20, 10], "nice": false, "zero": false}, "axis": {"values": [-20, -10, 0, 10], "title": "Bio-Z PTT (ms)"}}}},
  {"data": {"name": "n"}, "mark": {"type": "line", "color": "#D95319", "strokeWidth": 1, "clip": true},
   "encoding": {"y": {"field": "r3", "type": "quantitative", "title": "Bio-Z PTT (ms)"}}},
  {"data": {"name": "m4"},
   "transform": [{"fold": ["Bio-Z2/Bio-Z1", "Bio-Z3/Bio-Z1"], "as": ["k", "v"]}],
   "mark": {"type": "line", "strokeWidth": 3.2, "interpolate": "monotone", "clip": true},
   "encoding": {
    "y": {"field": "v", "type": "quantitative", "title": "Bio-Z PTT (ms)"},
    "color": {"field": "k", "type": "nominal", "scale": {"domain": ["Bio-Z2/Bio-Z1", "Bio-Z3/Bio-Z1"], "range": ["#0072BD", "#D95319"]},
     "legend": {"orient": "top-left", "offset": 6, "symbolType": "M-2.5,0H2.5", "symbolSize": 400, "symbolOffset": 15, "labelOffset": 20, "symbolStrokeWidth": 3}}
   }}
 ]
}
],
"resolve": {"scale": {"color": "independent"}}
}
